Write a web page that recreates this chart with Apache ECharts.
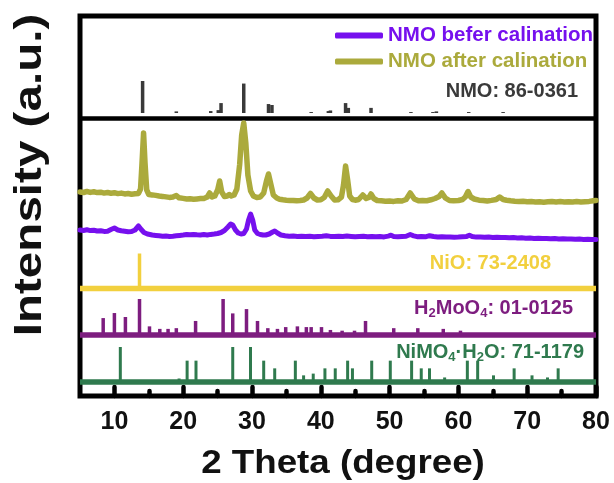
<!DOCTYPE html>
<html>
<head>
<meta charset="utf-8">
<script src="https://cdn.jsdelivr.net/npm/echarts@6/dist/echarts.min.js"></script>
<style>
  html, body { margin: 0; padding: 0; background: #fff; }
  #chart { width: 614px; height: 483px; }
</style>
</head>
<body>
<div id="chart"></div>
<script>
// ---- XRD patterns: [2θ (degree), intensity above the trace's own offset] ----
const afterCalcination = [
  [5,13],[5.5,12.5],[6,13.5],[6.5,12.6],[7,13.2],[7.5,12.4],[8,12.8],[8.5,11.9],[9,12.5],[9.5,11.8],
  [10,12.3],[10.5,11.4],[11,11.9],[11.5,11.1],[12,11.5],[12.5,10.8],[13,11.2],[13.5,11.6],[13.8,16],
  [14.0,40],[14.24,72],[14.45,42],[14.7,15],[15,10.5],[15.5,10.1],[16,9.6],[16.5,9.0],[17,8.6],[17.5,8.1],
  [18,7.6],[18.5,8.0],[19.0,9.5],[19.4,7.2],[20,6.6],[20.5,6.0],[21,6.3],[21.5,5.8],[22,6.1],[22.5,6.4],
  [23,6.5],[23.5,8],[23.85,12],[24.2,8],[24.6,9],[25.0,15],[25.3,24],[25.6,13],[26,8.5],[26.4,9],
  [26.7,10.5],[27.0,9],[27.4,10],[27.8,16],[28.2,40],[28.5,70],[28.8,82],[29.1,62],[29.4,30],[29.8,14],
  [30.2,9],[30.7,7.5],[31.2,8],[31.7,12],[32.1,24],[32.4,31],[32.7,22],[33.1,10],[33.6,7],[34,5.8],
  [34.5,5.2],[35,4.8],[35.5,4.5],[36,4.6],[36.5,4.2],[37,4.5],[37.5,5],[38,7],[38.5,11.5],[39,7],
  [39.5,5],[40,5.3],[40.5,7.5],[41.0,14],[41.5,9],[42,5],[42.5,5.2],[43,8],[43.3,20],[43.6,39],
  [43.9,25],[44.2,9],[44.6,5.5],[45,4.8],[45.5,5.5],[46.1,10],[46.6,6.5],[47.0,7.5],[47.3,11],[47.7,6.5],
  [48.2,4.5],[48.8,4.2],[49.4,3.8],[50,4],[50.6,3.6],[51.2,4.3],[51.8,4.0],[52.4,5.5],[53.0,12],[53.6,6],
  [54.2,4.2],[54.8,4.5],[55.4,4.3],[56,5.2],[56.6,6.5],[57.2,8.5],[57.6,12],[58.1,7],[58.7,4.5],[59.3,4.2],
  [60,4.5],[60.6,5.5],[61,8],[61.4,13.5],[61.8,8],[62.3,6],[63,4.8],[63.6,4.5],[64.2,4],[64.8,4.6],
  [65.5,5.5],[66,8],[66.5,5.5],[67,4.8],[67.6,4.2],[68.2,3.8],[68.8,3.5],[69.4,3.7],[70,3.2],[70.6,3.5],
  [71.2,3.0],[71.8,3.3],[72.4,2.8],[73,3.2],[73.6,3.5],[74.2,3.0],[74.8,3.4],[75.4,3.0],[76,3.3],[76.6,2.9],
  [77.2,3.4],[77.8,3.0],[78.4,3.3],[79,3.6],[79.6,4.2],[80,4.5]
];

const beforeCalcination = [
  [5,10],[5.5,9.5],[6,10.2],[6.5,9.4],[7,9.8],[7.5,9],[8,9.3],[8.5,8.6],[9,8.8],[9.5,10.5],
  [10,12],[10.5,10],[11,9.2],[11.5,8.8],[12,8.3],[12.5,8.5],[13,10],[13.5,14],[13.9,10.5],[14.3,7.5],
  [14.8,6],[15.5,5],[16,4.6],[16.5,4.2],[17,3.8],[17.5,3.9],[18,3.5],[18.5,3.8],[19,4.2],[19.5,4.6],
  [20,5],[20.5,5.5],[21,5.2],[21.5,5.6],[22,5.2],[22.5,5.0],[23,5.4],[23.5,5.0],[24,5.6],[24.5,6],
  [25,6.5],[25.5,7.5],[26,9.5],[26.5,13],[26.9,16],[27.2,15],[27.6,10],[28,7],[28.4,6],[28.8,6.5],
  [29.2,11],[29.5,20],[29.8,26],[30.1,20],[30.4,10],[30.8,6.5],[31.2,5.5],[31.6,5],[32,5],[32.5,6],
  [33,8],[33.3,9],[33.7,7],[34.2,5],[34.8,4.2],[35.4,3.8],[36,4],[36.6,3.5],[37.2,3.8],[37.8,3.4],
  [38.4,3.7],[39,3.3],[39.6,3.6],[40.2,3.8],[40.8,4.2],[41.4,3.6],[42,3.4],[42.6,3.8],[43.2,3.5],[43.8,4],
  [44.4,3.6],[45,3.2],[45.6,3.5],[46.2,3.8],[46.8,3.3],[47.4,3.6],[48,3.2],[48.6,3.4],[49.2,3.1],[49.8,3.9],
  [50.2,4.8],[50.6,3.5],[51.2,3.2],[51.8,3.5],[52.4,3.8],[53,5.5],[53.5,4.2],[54,3.3],[54.6,3.5],[55.2,3.2],
  [55.8,4.3],[56.4,3.5],[57,3.0],[57.6,3.3],[58.2,2.9],[58.8,3.1],[59.4,2.8],[60,3.0],[60.6,3.3],[61.2,3.6],
  [61.6,4.8],[62,3.5],[62.6,2.9],[63.2,3.1],[63.8,2.7],[64.4,2.9],[65,2.5],[65.6,2.8],[66.2,2.4],[66.8,2.6],
  [67.4,2.2],[68,2.4],[68.6,2.0],[69.2,2.2],[69.8,1.8],[70.4,2.0],[71,1.6],[71.6,1.8],[72.2,1.4],[72.8,1.6],
  [73.4,1.2],[74,1.5],[74.6,1.1],[75.2,1.3],[75.8,0.9],[76.4,1.1],[77,0.7],[77.6,0.9],[78.2,0.6],[78.8,0.8],
  [79.4,0.5],[80,0.6]
];

// ---- Reference cards: [2θ (degree), relative intensity %] ----
const cardNMO = [
  [14.1,100],[19.0,5],[24.0,6],[25.1,9],[25.5,31],[28.8,92],[32.4,28],[32.9,25],[38.6,3],
  [41.1,6],[41.4,8],[43.6,31],[44.0,16],[47.3,16],[53.1,3],[56.3,3],[56.8,5],[61.5,3],[66.5,3]
];
const cardNiO = [[13.65,100],[37.9,5],[43.4,5]];
const cardH2MoO4 = [
  [8.37,47],[10.0,61],[11.6,50],[13.65,100],[15.1,24],[16.6,17],[17.8,17],[19.0,19],[21.8,39],
  [25.8,100],[27.2,60],[29.2,72],[30.8,39],[32.3,19],[33.7,17],[34.9,22],[36.6,24],[37.9,22],
  [38.6,22],[40.1,22],[41.4,14],[43.1,12],[44.9,12],[46.5,39],[50.6,19],[54.1,19],[57.8,17],[60.3,12]
];
const cardNiMoO4H2O = [
  [10.86,100],[19.4,10],[20.57,61],[21.86,61],[27.2,100],[29.78,100],[31.7,61],[33.3,39],[36.3,61],
  [37.5,19],[38.9,24],[40.6,39],[42.1,39],[43.9,61],[44.6,39],[47.4,61],[50.1,61],[53.2,61],[54.6,39],
  [55.8,39],[58.0,13],[61.3,61],[62.8,61],[65.1,19],[68.1,39],[70.7,19],[72.95,13],[74.5,39]
];

// ---- Axis ticks ----
const majorTicks = [10, 20, 30, 40, 50, 60, 70, 80];
const minorTicks = [15, 25, 35, 45, 55, 65, 75];

const names = {
  before: 'NMO befer calination',
  after: 'NMO after calination'
};

// ---- Stacking layout (y-axis units) ----
const layout = {
  yMax: 380,
  nmoBase: 283, nmoScale: 0.32,
  divider: 278,
  afterOffset: 191,
  beforeOffset: 156,
  nioBase: 107.5, nioScale: 0.35,
  h2mBase: 61, h2mScale: 0.36,
  nmhBase: 14, nmhScale: 0.35
};

const colors = {
  before: '#7610ee',
  after: '#abaa3c',
  nmo: '#3a3a3a',
  nio: '#f2d03e',
  h2m: '#7d1d7f',
  nmh: '#2f7a4e'
};

const FONT = '"Liberation Sans", Arial, Helvetica, sans-serif';
const X_MIN = 5, X_MAX = 80;

function shift(data, offset) {
  return data.map(p => [p[0], offset + p[1]]);
}

function stickSeries(name, data, base, scale, color, width) {
  return {
    name: name,
    type: 'custom',
    data: data,
    encode: { x: 0, y: 1 },
    z: 3,
    renderItem: function (params, api) {
      const x = api.value(0);
      const v = api.value(1);
      const p0 = api.coord([x, base]);
      const p1 = api.coord([x, base + v * scale]);
      return {
        type: 'line',
        shape: { x1: p0[0], y1: p0[1], x2: p1[0], y2: p1[1] },
        style: { stroke: color, lineWidth: width }
      };
    }
  };
}

function baseline(name, base, color) {
  return {
    name: name,
    type: 'line',
    data: [[X_MIN, base], [X_MAX, base]],
    symbol: 'none',
    z: 4,
    lineStyle: { color: color, width: 5.5 }
  };
}

const chart = echarts.init(document.getElementById('chart'), null, { renderer: 'canvas' });

const option = {
  animation: false,
  backgroundColor: '#ffffff',
  textStyle: { fontFamily: FONT },
  grid: {
    left: 80, right: 18, top: 16, bottom: 87,
    show: true,
    borderColor: '#000',
    borderWidth: 5,
    backgroundColor: 'transparent'
  },
  legend: {
    orient: 'vertical',
    left: 330,
    top: 20,
    itemWidth: 48,
    itemHeight: 6,
    itemGap: 5,
    icon: 'roundRect',
    selectedMode: false,
    textStyle: { fontSize: 20.5, fontWeight: 'bold', fontFamily: FONT },
    data: [
      { name: names.before, textStyle: { color: colors.before } },
      { name: names.after, textStyle: { color: colors.after } }
    ]
  },
  xAxis: [
    {
      type: 'value',
      min: X_MIN,
      max: X_MAX,
      position: 'bottom',
      axisLine: { show: false },
      splitLine: { show: false },
      axisTick: {
        show: true, inside: true, length: 9, customValues: majorTicks,
        lineStyle: { color: '#000', width: 4.5, cap: 'round' }
      },
      axisLabel: {
        show: true, customValues: majorTicks, margin: 14,
        fontSize: 25, fontWeight: 'bold', color: '#111', fontFamily: FONT
      }
    },
    {
      type: 'value',
      min: X_MIN,
      max: X_MAX,
      position: 'bottom',
      axisLine: { show: false },
      splitLine: { show: false },
      axisLabel: { show: false },
      axisTick: {
        show: true, inside: true, length: 5, customValues: minorTicks,
        lineStyle: { color: '#000', width: 4.5, cap: 'round' }
      }
    }
  ],
  yAxis: {
    type: 'value',
    min: 0,
    max: layout.yMax,
    show: false,
    splitLine: { show: false }
  },
  graphic: [
    {
      type: 'text',
      x: 30, y: 175,
      rotation: Math.PI / 2,
      scaleX: 1.22,
      style: {
        text: 'Intensity (a.u.)',
        font: 'bold 39px ' + FONT,
        fill: '#111',
        align: 'center',
        verticalAlign: 'middle'
      }
    },
    {
      type: 'text',
      x: 343, y: 464,
      scaleX: 1.08,
      style: {
        text: '2 Theta (degree)',
        font: 'bold 34px ' + FONT,
        fill: '#111',
        align: 'center',
        verticalAlign: 'middle'
      }
    },
    {
      type: 'text',
      x: 578, y: 91,
      style: {
        text: 'NMO: 86-0361',
        font: 'bold 20px ' + FONT,
        fill: colors.nmo,
        align: 'right',
        verticalAlign: 'middle'
      }
    },
    {
      type: 'text',
      x: 551, y: 263,
      style: {
        text: 'NiO: 73-2408',
        font: 'bold 20px ' + FONT,
        fill: colors.nio,
        align: 'right',
        verticalAlign: 'middle'
      }
    },
    {
      type: 'text',
      x: 573, y: 308,
      style: {
        text: '{m|H}{s|2}{m|MoO}{s|4}{m|: 01-0125}',
        fill: colors.h2m,
        align: 'right',
        verticalAlign: 'middle',
        rich: {
          m: { fontSize: 20, fontWeight: 'bold', fontFamily: FONT, fill: colors.h2m, lineHeight: 24 },
          s: { fontSize: 13, fontWeight: 'bold', fontFamily: FONT, fill: colors.h2m, lineHeight: 10, verticalAlign: 'bottom' }
        }
      }
    },
    {
      type: 'text',
      x: 584, y: 352,
      style: {
        text: '{m|NiMO}{s|4}{m|·H}{s|2}{m|O: 71-1179}',
        fill: colors.nmh,
        align: 'right',
        verticalAlign: 'middle',
        rich: {
          m: { fontSize: 20, fontWeight: 'bold', fontFamily: FONT, fill: colors.nmh, lineHeight: 24 },
          s: { fontSize: 13, fontWeight: 'bold', fontFamily: FONT, fill: colors.nmh, lineHeight: 10, verticalAlign: 'bottom' }
        }
      }
    }
  ],
  series: [
    {
      name: 'divider',
      type: 'line',
      data: [],
      markLine: {
        silent: true,
        symbol: 'none',
        label: { show: false },
        lineStyle: { color: '#000', width: 4.5, type: 'solid' },
        data: [{ yAxis: layout.divider }]
      }
    },
    stickSeries('NMO: 86-0361', cardNMO, layout.nmoBase, layout.nmoScale, colors.nmo, 3.5),
    {
      name: names.after,
      type: 'line',
      data: shift(afterCalcination, layout.afterOffset),
      symbol: 'none',
      z: 5,
      itemStyle: { color: colors.after },
      lineStyle: { color: colors.after, width: 5.5, cap: 'round', join: 'round' }
    },
    {
      name: names.before,
      type: 'line',
      data: shift(beforeCalcination, layout.beforeOffset),
      symbol: 'none',
      z: 5,
      itemStyle: { color: colors.before },
      lineStyle: { color: colors.before, width: 5, cap: 'round', join: 'round' }
    },
    stickSeries('NiO: 73-2408', cardNiO, layout.nioBase, layout.nioScale, colors.nio, 3.5),
    baseline('NiO base', layout.nioBase, colors.nio),
    stickSeries('H2MoO4: 01-0125', cardH2MoO4, layout.h2mBase, layout.h2mScale, colors.h2m, 3.5),
    baseline('H2MoO4 base', layout.h2mBase, colors.h2m),
    stickSeries('NiMoO4·H2O: 71-1179', cardNiMoO4H2O, layout.nmhBase, layout.nmhScale, colors.nmh, 3),
    baseline('NiMoO4·H2O base', layout.nmhBase, colors.nmh)
  ]
};

chart.setOption(option);
</script>
</body>
</html>
